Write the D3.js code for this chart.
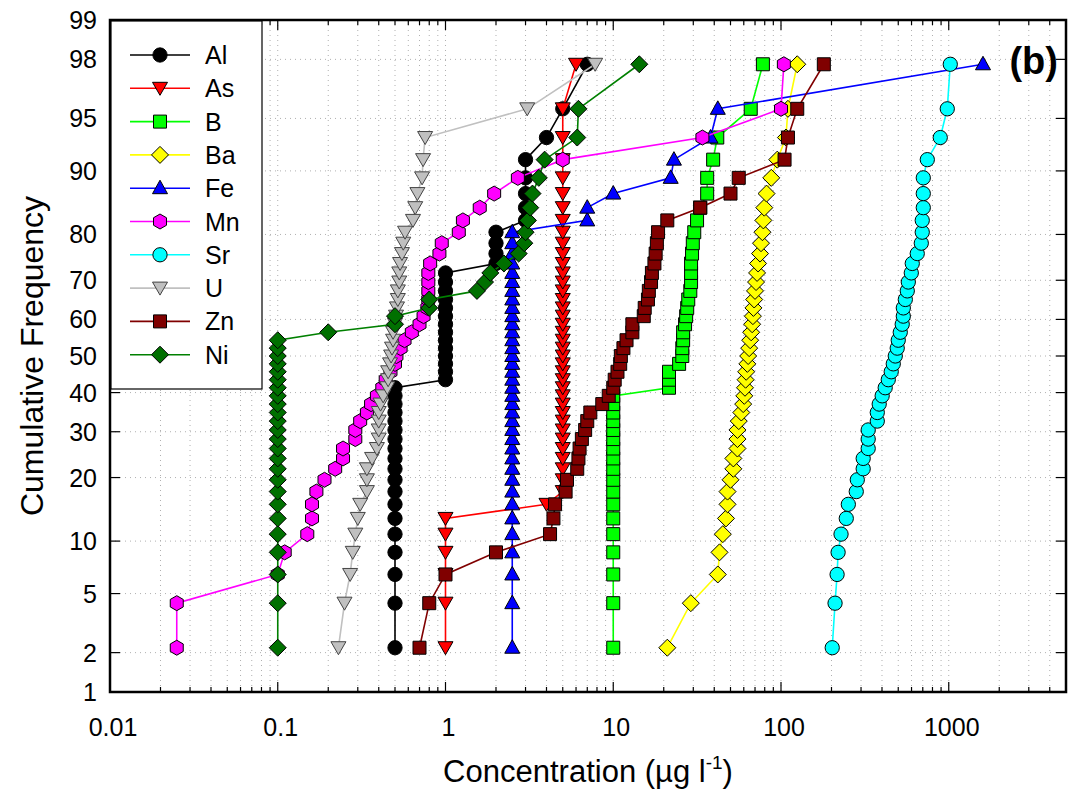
<!DOCTYPE html>
<html>
<head>
<meta charset="utf-8">
<script src="https://cdn.jsdelivr.net/npm/d3@7"></script>
<style>
  body { margin: 0; background: #fff; }
  text { font-family: "Liberation Sans", Arial, sans-serif; }
</style>
</head>
<body>
<script>
// cumulative frequency (%) of each ranked sample, n = 45
const freq = [2.17, 4.35, 6.52, 8.70, 10.87, 13.04, 15.22, 17.39, 19.57, 21.74, 23.91, 26.09, 28.26, 30.43, 32.61,
  34.78, 36.96, 39.13, 41.30, 43.48, 45.65, 47.83, 50.00, 52.17, 54.35, 56.52, 58.70, 60.87, 63.04, 65.22,
  67.39, 69.57, 71.74, 73.91, 76.09, 78.26, 80.43, 82.61, 84.78, 86.96, 89.13, 91.30, 93.48, 95.65, 97.83];

const elements = ["Al", "As", "B", "Ba", "Fe", "Mn", "Sr", "U", "Zn", "Ni"];

const al = [0.5, 0.5, 0.5, 0.5, 0.5, 0.5, 0.5, 0.5, 0.5, 0.5, 0.5, 0.5, 0.5, 0.5, 0.5, 0.5, 0.5, 0.5, 0.5,
  1, 1, 1, 1, 1, 1, 1, 1, 1, 1, 1, 1, 1, 1, 2, 2, 2, 2, 3, 3, 3, 3, 3, 4, 5, 7];
const as = [1, 1, 1, 1, 1, 1, 4, 5, 5, 5, 5, 5, 5, 5, 5, 5, 5, 5, 5, 5, 5, 5, 5, 5, 5, 5, 5, 5, 5, 5, 5,
  5, 5, 5, 5, 5, 5, 5, 5, 5, 5, 5, 5, 5, 6];
const b = [10, 10, 10, 10, 10, 10, 10, 10, 10, 10, 10, 10, 10, 10, 10, 10, 10, 10,
  21.5, 21.5, 21.5, 24.7, 25.8, 25.8, 26.1, 26.1, 26.8, 27.2, 27.6, 28, 28.8, 29.1, 29.1, 29.1, 29.5, 29.8,
  30.4, 31.6, 33, 36.3, 36.3, 39.4, 41.7, 66, 78];
const ba = [21, 29, 42, 43, 45, 47, 48, 48, 50, 52, 52, 55, 55, 55, 56, 58, 59.5, 60.4, 61, 61.5,
  62, 63, 63.7, 64.6, 65.5, 66.4, 67.3, 68, 68.5, 69.2, 70, 71, 72, 73, 75, 76, 77.5, 78.5, 79.5, 82,
  87.5, 95, 107, 110, 125];
const fe = [2.5, 2.5, 2.5, 2.5, 2.5, 2.5, 2.5, 2.5, 2.5, 2.5, 2.5, 2.5, 2.5, 2.5, 2.5, 2.5, 2.5, 2.5, 2.5,
  2.5, 2.5, 2.5, 2.5, 2.5, 2.5, 2.5, 2.5, 2.5, 2.5, 2.5, 2.5, 2.5, 2.5, 2.5, 2.5, 2.5, 2.5,
  7, 7, 10, 22, 23, 38, 42, 1600];
const mn = [0.025, 0.025, 0.1, 0.11, 0.15, 0.16, 0.16, 0.17, 0.19, 0.22, 0.245, 0.245, 0.29, 0.29, 0.31,
  0.34, 0.36, 0.39, 0.42, 0.44, 0.47, 0.50, 0.51, 0.54, 0.57, 0.63, 0.70, 0.74, 0.78, 0.79,
  0.79, 0.79, 0.79, 0.81, 0.92, 0.95, 1.2, 1.27, 1.6, 1.95, 2.7, 5.0, 34, 100, 104];
const sr = [202, 210, 216, 219, 228, 245, 252, 281, 285, 309, 309, 331, 331, 331, 375, 375, 385, 401, 418, 436,
  454, 467, 480, 493, 500, 514, 528, 536, 536, 551, 566, 574, 598, 606, 649, 686, 695, 695, 705, 705,
  705, 745, 890, 980, 1021];
const u = [0.23, 0.25, 0.27, 0.28, 0.29, 0.30, 0.31, 0.34, 0.34, 0.34, 0.365, 0.39, 0.40, 0.40, 0.40,
  0.40, 0.41, 0.425, 0.45, 0.455, 0.455, 0.467, 0.474, 0.48, 0.487, 0.487, 0.50, 0.507, 0.514, 0.52,
  0.52, 0.53, 0.53, 0.536, 0.55, 0.56, 0.574, 0.64, 0.66, 0.68, 0.725, 0.735, 0.756, 3.07, 7.8];
const zn = [0.7, 0.8, 1.0, 2.0, 4.2, 4.4, 4.5, 5.2, 5.3, 6.1, 6.2, 6.3, 6.5, 6.8, 7.0, 7.3, 8.6, 9.4, 10, 10.2,
  10.6, 11, 11.1, 11.5, 12, 13, 13, 15.2, 15.4, 16.1, 16.3, 16.8, 17, 17.6, 17.9, 18.2, 18.5, 21, 33, 50,
  56, 105, 110, 125, 180];
const ni = [0.1, 0.1, 0.1, 0.1, 0.1, 0.1, 0.1, 0.1, 0.1, 0.1, 0.1, 0.1, 0.1, 0.1, 0.1, 0.1, 0.1, 0.1, 0.1, 0.1,
  0.1, 0.1, 0.1, 0.1, 0.1, 0.2, 0.5, 0.5, 0.8, 0.8, 1.54, 1.72, 1.85, 2.23, 2.73, 2.95, 3.0, 3.1, 3.2, 3.3,
  3.6, 3.9, 6.1, 6.2, 14.3];

const xTickLabels = [0.01, 0.1, 1, 10, 100, 1000];
const yTickLabels = [1, 2, 5, 10, 20, 30, 40, 50, 60, 70, 80, 90, 95, 98, 99];

// inverse of the standard normal cdf (Acklam) for the probability axis
function probit(p){
    const a = [-3.969683028665376e+01, 2.209460984245205e+02, -2.759285104469687e+02, 1.383577518672690e+02, -3.066479806614716e+01, 2.506628277459239e+00];
    const b = [-5.447609879822406e+01, 1.615858368580409e+02, -1.556989798598866e+02, 6.680131188771972e+01, -1.328068155288572e+01];
    const c = [-7.784894002430293e-03, -3.223964580411365e-01, -2.400758277161838e+00, -2.549732539343734e+00, 4.374664141464968e+00, 2.938163982698783e+00];
    const d = [7.784695709041462e-03, 3.224671290700398e-01, 2.445134137142996e+00, 3.754408661907416e+00];
    const plow = 0.02425;
    let q, r;
    if (p < plow){
        q = Math.sqrt(-2 * Math.log(p));
        return (((((c[0]*q+c[1])*q+c[2])*q+c[3])*q+c[4])*q+c[5]) / ((((d[0]*q+d[1])*q+d[2])*q+d[3])*q+1);
    }
    if (p <= 1 - plow){
        q = p - 0.5; r = q*q;
        return (((((a[0]*r+a[1])*r+a[2])*r+a[3])*r+a[4])*r+a[5])*q / (((((b[0]*r+b[1])*r+b[2])*r+b[3])*r+b[4])*r+1);
    }
    q = Math.sqrt(-2 * Math.log(1 - p));
    return -(((((c[0]*q+c[1])*q+c[2])*q+c[3])*q+c[4])*q+c[5]) / ((((d[0]*q+d[1])*q+d[2])*q+d[3])*q+1);
}

// marker shapes
function markerPath(shape){
    switch (shape){
        case "circle": return d3.symbol(d3.symbolCircle, 160)();
        case "square": return "M-6.5,-6.5H6.5V6.5H-6.5Z";
        case "diamond": return "M0,-8.5L8.5,0L0,8.5L-8.5,0Z";
        case "triUp": return "M0,-8L7.5,5.5H-7.5Z";
        case "triDown": return "M0,7L7.5,-6H-7.5Z";
        case "hexagon": {
            const pts = d3.range(6).map(i => {
                const ang = Math.PI / 3 * i - Math.PI / 2;
                return [7.5 * Math.cos(ang), 7.5 * Math.sin(ang)];
            });
            return "M" + pts.join("L") + "Z";
        }
    }
}

function main(){
    const canvasWidth = 1073;
    const canvasHeight = 806;
    const left = 110, right = 1066, top = 20, bottom = 692;

    const svg = d3.select("body").append("svg")
        .attr("width", canvasWidth)
        .attr("height", canvasHeight);

    const xScale = d3.scaleLog().domain([0.01, 5000]).range([left, right]);
    const zScale = d3.scaleLinear().domain([probit(0.01), probit(0.99)]).range([bottom, top]);
    const yScale = pct => zScale(probit(pct / 100));

    const series = [
        {name: "Al", values: al, line: "#000000", fill: "#000000", shape: "circle"},
        {name: "As", values: as, line: "#ff0000", fill: "#ff0000", shape: "triDown"},
        {name: "B",  values: b,  line: "#00ff00", fill: "#00ff00", shape: "square"},
        {name: "Ba", values: ba, line: "#ffff00", fill: "#ffff00", shape: "diamond"},
        {name: "Fe", values: fe, line: "#0000ff", fill: "#0000ff", shape: "triUp"},
        {name: "Mn", values: mn, line: "#ff00ff", fill: "#ff00ff", shape: "hexagon"},
        {name: "Sr", values: sr, line: "#00ffff", fill: "#00ffff", shape: "circle"},
        {name: "U",  values: u,  line: "#c0c0c0", fill: "#c0c0c0", shape: "triDown"},
        {name: "Zn", values: zn, line: "#800000", fill: "#800000", shape: "square"},
        {name: "Ni", values: ni, line: "#008000", fill: "#007000", shape: "diamond"}
    ];

    // minor + major log ticks for grid
    const allXTicks = [];
    for (let e = -2; e <= 3; e++){
        for (let m = 1; m <= 9; m++){
            const v = m * Math.pow(10, e);
            if (v <= 5000) allXTicks.push(v);
        }
    }
    allXTicks.push(5000);

    const grid = svg.append("g").attr("stroke", "#b0b0b0").attr("stroke-width", 1)
        .attr("stroke-dasharray", "1,4");
    grid.selectAll("line.gx").data(allXTicks.filter(v => v > 0.01 && v < 5000)).enter().append("line")
        .attr("x1", d => xScale(d)).attr("x2", d => xScale(d))
        .attr("y1", top).attr("y2", bottom);
    grid.selectAll("line.gy").data(yTickLabels.filter(v => v > 1 && v < 99)).enter().append("line")
        .attr("x1", left).attr("x2", right)
        .attr("y1", d => yScale(d)).attr("y2", d => yScale(d));

    // tick marks inside the frame
    const ticks = svg.append("g").attr("stroke", "#000").attr("stroke-width", 1.2);
    allXTicks.forEach(v => {
        const major = xTickLabels.includes(v);
        const len = major ? 10 : 5;
        const x = xScale(v);
        ticks.append("line").attr("x1", x).attr("x2", x).attr("y1", bottom).attr("y2", bottom - len);
        ticks.append("line").attr("x1", x).attr("x2", x).attr("y1", top).attr("y2", top + len);
    });
    yTickLabels.forEach(v => {
        const y = yScale(v);
        ticks.append("line").attr("x1", left).attr("x2", left + 10).attr("y1", y).attr("y2", y);
        ticks.append("line").attr("x1", right).attr("x2", right - 10).attr("y1", y).attr("y2", y);
    });

    // tick labels
    svg.append("g").selectAll("text").data(xTickLabels).enter().append("text")
        .attr("x", d => xScale(d) + 3)
        .attr("y", bottom + 44)
        .attr("text-anchor", "middle")
        .attr("font-size", "25px")
        .text(d => String(d));
    svg.append("g").selectAll("text").data(yTickLabels).enter().append("text")
        .attr("x", left - 13)
        .attr("y", d => yScale(d) + 9)
        .attr("text-anchor", "end")
        .attr("font-size", "25px")
        .text(d => String(d));

    // axis titles
    svg.append("text")
        .attr("transform", "translate(43," + ((top + bottom) / 2) + ") rotate(-90)")
        .attr("text-anchor", "middle")
        .attr("font-size", "32px")
        .text("Cumulative Frequency");
    const xt = svg.append("text")
        .attr("x", (left + right) / 2)
        .attr("y", 782)
        .attr("text-anchor", "middle")
        .attr("font-size", "31px");
    xt.append("tspan").text("Concentration (µg l");
    xt.append("tspan").attr("font-size", "19px").attr("dy", -13).text("-1");
    xt.append("tspan").attr("dy", 13).text(")");

    // data
    const lineGen = d3.line().x(d => xScale(d[0])).y(d => yScale(d[1]));
    const plot = svg.append("g");
    series.forEach(s => {
        const pts = s.values.map((v, i) => [v, freq[i]]);
        const g = plot.append("g");
        g.append("path")
            .attr("d", lineGen(pts))
            .attr("fill", "none")
            .attr("stroke", s.line)
            .attr("stroke-width", 1.6);
        g.selectAll("path.m").data(pts).enter().append("path")
            .attr("d", markerPath(s.shape))
            .attr("transform", d => "translate(" + xScale(d[0]) + "," + yScale(d[1]) + ")")
            .attr("fill", s.fill)
            .attr("stroke", s.name === "U" ? "#444" : "#000")
            .attr("stroke-width", 1);
    });

    // frame
    svg.append("rect")
        .attr("x", left).attr("y", top)
        .attr("width", right - left).attr("height", bottom - top)
        .attr("fill", "none")
        .attr("stroke", "#000")
        .attr("stroke-width", 2.5);

    // legend
    const legend = svg.append("g");
    legend.append("rect")
        .attr("x", left + 1).attr("y", top + 1)
        .attr("width", 151).attr("height", 368)
        .attr("fill", "#fff")
        .attr("stroke", "#000")
        .attr("stroke-width", 1.2);
    series.forEach((s, i) => {
        const y = 55 + i * 33.3;
        legend.append("line")
            .attr("x1", 130).attr("x2", 190).attr("y1", y).attr("y2", y)
            .attr("stroke", s.line).attr("stroke-width", 1.6);
        legend.append("path")
            .attr("d", markerPath(s.shape))
            .attr("transform", "translate(160," + y + ")")
            .attr("fill", s.fill)
            .attr("stroke", s.name === "U" ? "#444" : "#000");
        legend.append("text")
            .attr("x", 205).attr("y", y + 9)
            .attr("font-size", "25px")
            .text(s.name);
    });

    svg.append("text")
        .attr("x", 1058).attr("y", 74)
        .attr("text-anchor", "end")
        .attr("font-size", "38px")
        .attr("font-weight", "bold")
        .text("(b)");
}
main();
</script>
</body>
</html>
